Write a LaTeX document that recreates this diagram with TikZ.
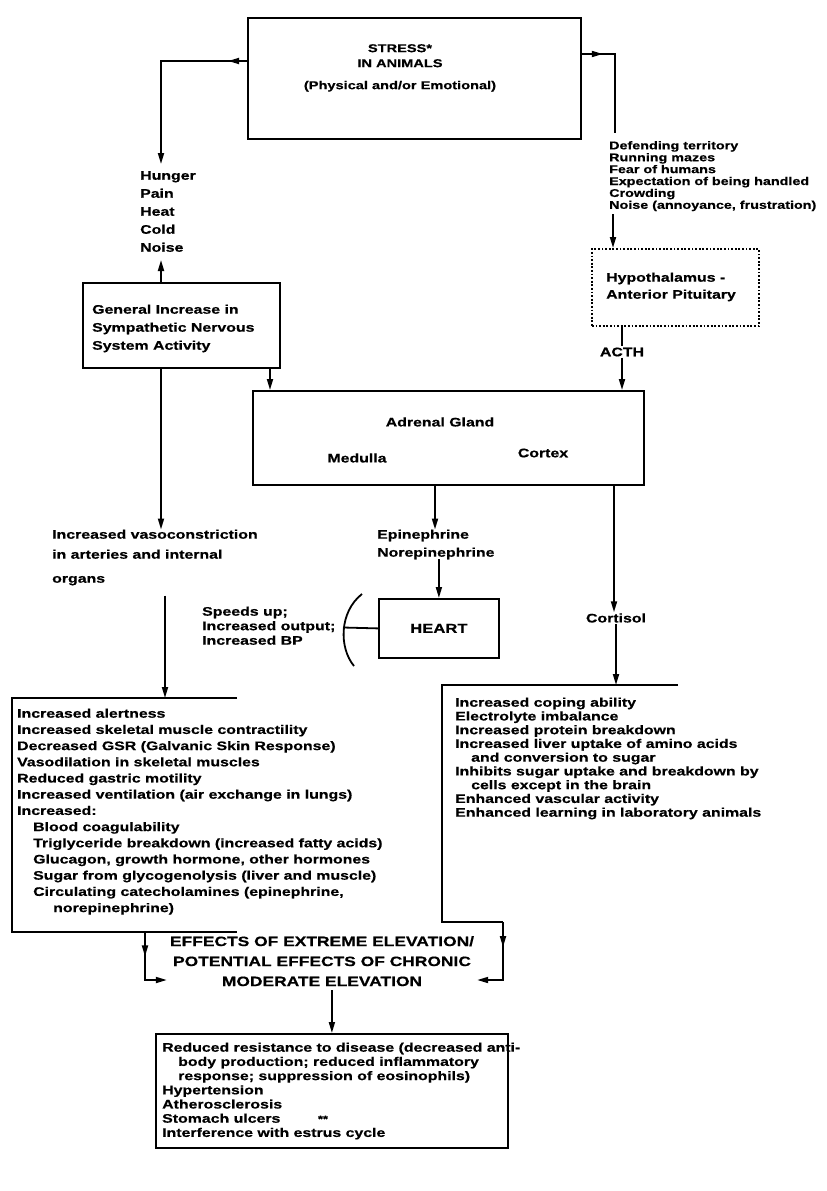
\documentclass[tikz,border=0pt]{standalone}
\usepackage{fontspec}
\newfontfamily\df{Liberation Sans Bold}[FakeStretch=1.28, FakeBold=0.6]
\usetikzlibrary{arrows.meta,decorations.markings}
\tikzset{
  ln/.style={line width=1.8pt},
  bx/.style={draw, line width=1.8pt, inner sep=0pt},
  tip/.style={-{Triangle[length=11pt,width=6pt]}},
  lst/.style={font=\df\fontsize{12.4}{#1}\selectfont, align=left, inner sep=0pt, anchor=north west},
  lst/.default=14.5,
  marr/.style={postaction={decorate}, decoration={markings, mark=at position #1 with {\arrow{Triangle[length=11pt,width=6pt]}}}}
}
\begin{document}
\begin{tikzpicture}[x=1pt,y=-1pt]
\useasboundingbox (0,0) rectangle (827,1191);
% STRESS box
\node[bx, minimum width=333pt, minimum height=121pt, anchor=north west] (stress) at (247,17) {};
\node[font=\df\fontsize{11.4}{15}\selectfont, align=center, inner sep=0pt, anchor=north] (stresst) at (400,44) {STRESS*\\IN ANIMALS\\[7pt](Physical and/or Emotional)};
\coordinate (sL) at (247,61);
\coordinate (sR) at (580,54);
% left branch
\node[lst=18] (hunger) at (140,171) {Hunger\\Pain\\Heat\\Cold\\Noise};
\coordinate (hgTop) at (161,164);
\draw[ln, tip, marr=0.1] (sL) -| (hgTop);
\node[bx, minimum width=197pt, minimum height=85pt, anchor=north west] (gen) at (82,282) {};
\node[lst=18] (gent) at (92,304.5) {General Increase in\\Sympathetic Nervous\\System Activity};
\draw[ln, tip] (gen.north -| hgTop) -- ++(0,-22);
% right branch
\node[lst, font=\df\fontsize{11.2}{11.9}\selectfont] (def) at (609,141) {Defending territory\\Running mazes\\Fear of humans\\Expectation of being handled\\Crowding\\Noise (annoyance, frustration)};
\coordinate (rTop) at (615,133);
\draw[ln, marr=0.2] (sR) -| (rTop);
\node[bx, dash pattern=on 1.8pt off 1.8pt, line width=1.8pt, minimum width=167pt, minimum height=77pt, anchor=north west] (hyp) at (591,248) {};
\node[lst=17] (hypt) at (606,272.5) {Hypothalamus -\\Anterior Pituitary};
\draw[ln, tip] (def.south -| 613,0) ++(0,3) -- (hyp.north -| 613,0);
\node[font=\df\fontsize{12.4}{14}\selectfont, inner sep=1pt] (acth) at (622,352) {ACTH};
\draw[ln] (hyp.south -| acth) -- (acth.north);
% adrenal
\node[bx, minimum width=391pt, minimum height=94pt, anchor=north west] (adr) at (252,390) {};
\draw[ln, tip] (acth.south) -- (adr.north -| acth);
\draw[ln, tip] (gen.south -| 270,0) -- (adr.north -| 270,0);
\node[font=\df\fontsize{12.4}{14}\selectfont, inner sep=0pt] (adrt) at (440,422) {Adrenal Gland};
\node[font=\df\fontsize{12.4}{14}\selectfont, inner sep=0pt] (med) at (357,458) {Medulla};
\node[font=\df\fontsize{12.4}{14}\selectfont, inner sep=0pt] (cor) at (543,453) {Cortex};
% vasoconstriction
\node[lst=20] (vaso) at (52,529.5) {Increased vasoconstriction\\in arteries and internal\\[4pt]organs};
\draw[ln, tip] (gen.south -| hgTop) -- (vaso.north -| hgTop);
% epinephrine / heart
\node[lst=18] (epi) at (377,529.5) {Epinephrine\\Norepinephrine};
\draw[ln, tip] (adr.south -| 435,0) -- (epi.north -| 435,0);
\node[bx, minimum width=120pt, minimum height=59pt, anchor=north west, font=\df\fontsize{13}{14}\selectfont] (heart) at (378,598) {HEART};
\draw[ln, tip] (epi.south -| heart) -- (heart.north);
\node[lst] (speed) at (202,606.5) {Speeds up;\\Increased output;\\Increased BP};
\coordinate (brk) at (343,627.5);
\draw[ln] (362,594) .. controls (339,612) and (339,648) .. (354,666);
\draw[ln] (heart.west) -- (brk);
% cortisol
\node[font=\df\fontsize{12.4}{14}\selectfont, inner sep=1pt] (cort) at (616,618) {Cortisol};
\draw[ln, tip] (adr.south -| 614,0) -- (cort.north -| 614,0);
% left effects box
\coordinate (lbTL) at (12,698);
\coordinate (lbTR) at (237,698);
\coordinate (lbBL) at (12,932);
\coordinate (lbBR) at (237,932);
\draw[ln] (lbTR) -- (lbTL) -- (lbBL) -- (lbBR);
\draw[ln, tip] (vaso.south -| 165,0) ++(0,10) -- (lbTL -| 165,0);
\node[lst=16.2] (lbt) at (17,708.5) {Increased alertness\\Increased skeletal muscle contractility\\Decreased GSR (Galvanic Skin Response)\\Vasodilation in skeletal muscles\\Reduced gastric motility\\Increased ventilation (air exchange in lungs)\\Increased:\\\hspace*{16pt}Blood coagulability\\\hspace*{16pt}Triglyceride breakdown (increased fatty acids)\\\hspace*{16pt}Glucagon, growth hormone, other hormones\\\hspace*{16pt}Sugar from glycogenolysis (liver and muscle)\\\hspace*{16pt}Circulating catecholamines (epinephrine,\\\hspace*{36pt}norepinephrine)};
% right effects box
\coordinate (rbTL) at (442,685);
\coordinate (rbTR) at (678,685);
\coordinate (rbBL) at (442,922);
\coordinate (rbBR) at (503,922);
\draw[ln] (rbTR) -- (rbTL) -- (rbBL) -- (rbBR);
\draw[ln, tip] (cort.south) -- (rbTL -| cort);
\node[lst=13.75] (rbt) at (455,697.5) {Increased coping ability\\Electrolyte imbalance\\Increased protein breakdown\\Increased liver uptake of amino acids\\\hspace*{16pt}and conversion to sugar\\Inhibits sugar uptake and breakdown by\\\hspace*{16pt}cells except in the brain\\Enhanced vascular activity\\Enhanced learning in laboratory animals};
% effects
\node[font=\df\fontsize{13.6}{20}\selectfont, align=center, inner sep=0pt, anchor=north] (eff) at (322,936) {EFFECTS OF EXTREME ELEVATION/\\POTENTIAL EFFECTS OF CHRONIC\\MODERATE ELEVATION};
\coordinate (lbJ) at (145,932);
\draw[ln, tip, marr=0.35] (lbJ) |- ([xshift=-3pt]eff.south west |- 0,980);
\draw[ln, tip, marr=0.3] (rbBR) |- ([xshift=3pt]eff.south east |- 0,980);
% bottom box
\node[bx, minimum width=352pt, minimum height=114pt, anchor=north west] (bb) at (155,1033) {};
\draw[ln, tip] (eff.south -| bb) ++(0,4) -- (bb.north);
\node[lst=14.2] (bbt) at (162,1042.5) {Reduced resistance to disease (decreased anti-\\\hspace*{16pt}body production; reduced inflammatory\\\hspace*{16pt}response; suppression of eosinophils)\\Hypertension\\Atherosclerosis\\Stomach ulcers\\Interference with estrus cycle};
\node[font=\df\fontsize{10}{10}\selectfont, inner sep=0pt] (ast) at (323,1119) {**};
\end{tikzpicture}
\end{document}
